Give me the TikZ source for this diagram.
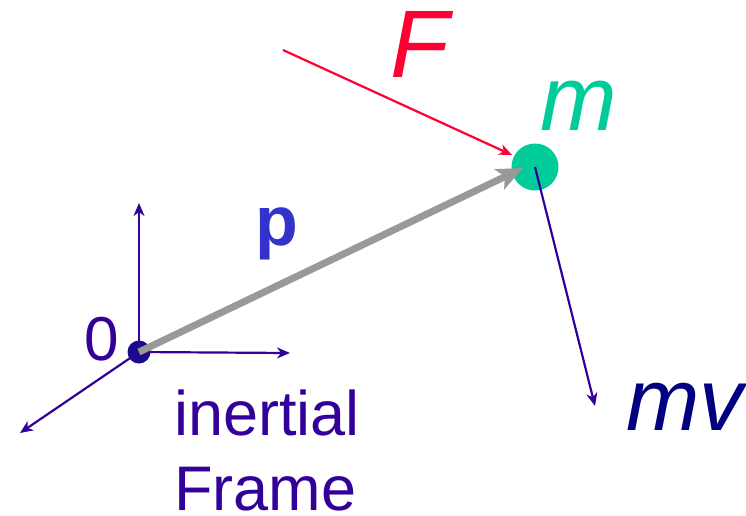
\documentclass[tikz,border=0pt]{standalone}
\usepackage{fontspec}
\setmainfont{Liberation Sans}
\usetikzlibrary{arrows.meta}
\definecolor{fred}{HTML}{FF0033}
\definecolor{mgreen}{HTML}{00CC99}
\definecolor{pblue}{HTML}{3333CC}
\definecolor{axpurple}{HTML}{330099}
\definecolor{mvnavy}{HTML}{000080}
\definecolor{pgray}{HTML}{999999}
\definecolor{dotnavy}{HTML}{1A0A8C}
\tikzset{
  thinarrow/.style={line width=2.2pt,-{Stealth[length=13pt,width=11pt,inset=4pt]}},
  lbl/.style={inner sep=0pt,anchor=base west},
}
\begin{document}
\begin{tikzpicture}[x=1pt,y=-1pt]
\useasboundingbox (0,0) rectangle (746,515);
% origin and mass
\coordinate (o) at (139,352);
\fill[dotnavy] (o) circle (11.5);
\node[circle,fill=mgreen,minimum size=47pt,inner sep=0pt] (m) at (535,167) {};
% axes
\coordinate (ay) at (139,203);
\coordinate (ax) at (290,353);
\coordinate (az) at (20,433);
\draw[axpurple,thinarrow] (o) -- (ay);
\draw[axpurple,thinarrow] (o) -- (ax);
\draw[axpurple,thinarrow] (o) -- (az);
% p vector
\coordinate (ptip) at (523,168);
\draw[pgray,line width=7pt,-{Stealth[length=26pt,width=22pt,inset=6pt]}] (o) -- (ptip);
% force
\coordinate (fs) at (283,50);
\coordinate (ft) at (512,155);
\draw[fred,thinarrow] (fs) -- (ft);
% mv
\coordinate (mvs) at (535,167);
\coordinate (mvt) at (595,406);
\draw[axpurple,thinarrow] (mvs) -- (mvt);
% labels
\node[lbl,text=fred,font=\fontsize{96}{96}\selectfont\itshape] (lF) at (390,77) {F};
\node[lbl,text=mgreen,font=\fontsize{92}{92}\selectfont\itshape] (lm) at (540,130) {m};
\node[lbl,text=pblue,font=\fontsize{70}{70}\selectfont\bfseries] (lp) at (255,245) {p};
\node[lbl,text=axpurple,font=\fontsize{62}{62}\selectfont] (l0) at (84,360) {0};
\node[lbl,text=axpurple,font=\fontsize{63}{63}\selectfont] (li) at (174,435) {inertial};
\node[lbl,text=axpurple,font=\fontsize{63}{63}\selectfont] (lf) at (174,510) {Frame};
\node[lbl,text=mvnavy,font=\fontsize{88}{88}\selectfont\itshape] (lmv) at (626,430) {mv};
\end{tikzpicture}
\end{document}
